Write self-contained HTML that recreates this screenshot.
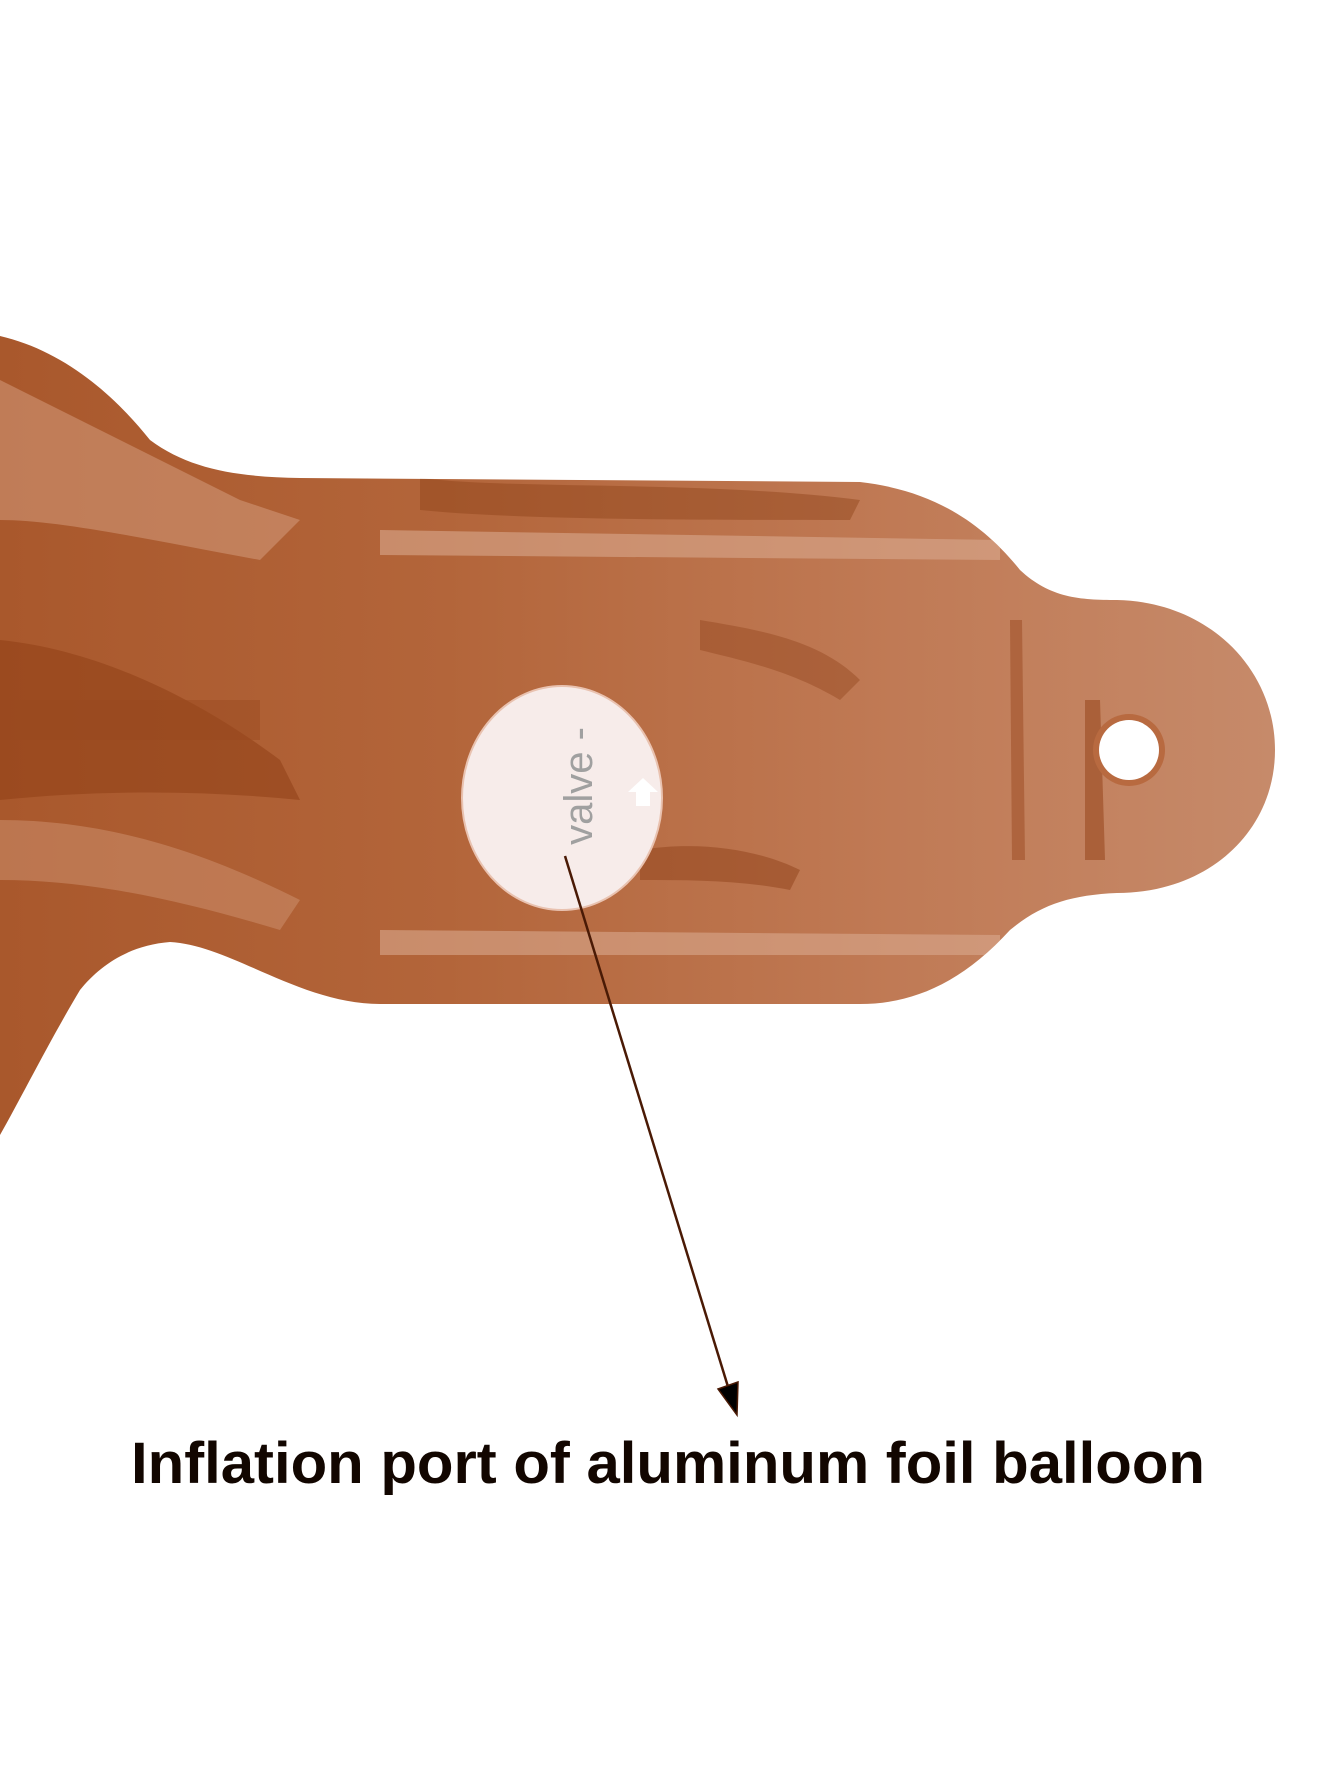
<!DOCTYPE html>
<html><head><meta charset="utf-8"><style>
html,body{margin:0;padding:0;background:#fff;}
svg{display:block;}
</style></head><body>
<svg width="1340" height="1785" viewBox="0 0 1340 1785" xmlns="http://www.w3.org/2000/svg">
<defs>
<linearGradient id="g1" x1="0" y1="0" x2="1" y2="0">
<stop offset="0" stop-color="#a9582c"/><stop offset="0.35" stop-color="#b3653a"/><stop offset="0.7" stop-color="#c07a55"/><stop offset="1" stop-color="#c68a6a"/>
</linearGradient>
<clipPath id="cp"><path id="foil" d="M0,336 C60,350 110,390 150,440 C190,470 240,477 300,478 L860,482 C930,490 980,520 1020,570 C1050,598 1080,600 1117,600 C1210,602 1275,670 1275,750 C1275,830 1210,893 1117,893 C1070,895 1040,905 1010,930 C960,985 910,1004 860,1004 L380,1004 C300,1004 230,945 170,942 C130,945 100,965 80,990 C50,1040 20,1100 0,1135 Z"/></clipPath>
</defs>
<use href="#foil" fill="url(#g1)"/>
<g clip-path="url(#cp)">
<path d="M0,380 C80,420 160,460 240,500 L300,520 L260,560 C150,540 60,520 0,520Z" fill="#d49a7c" opacity="0.55"/>
<path d="M0,640 C100,650 200,700 280,760 L300,800 C200,790 100,790 0,800Z" fill="#8f4016" opacity="0.55"/>
<path d="M0,820 C120,820 220,860 300,900 L280,930 C180,900 90,880 0,880Z" fill="#c98a68" opacity="0.6"/>
<path d="M380,530 L1000,540 L1000,560 L380,555Z" fill="#d8a88e" opacity="0.6"/>
<path d="M380,930 L1000,935 L1000,955 L380,955Z" fill="#d8a88e" opacity="0.6"/>
<path d="M420,478 C520,490 700,480 860,500 L850,520 C700,520 520,520 420,510Z" fill="#8f4219" opacity="0.45"/>
<path d="M640,850 C700,840 760,850 800,870 L790,890 C740,880 690,880 640,880Z" fill="#8f4219" opacity="0.5"/>
<path d="M700,620 C760,630 820,640 860,680 L840,700 C790,670 740,660 700,650Z" fill="#8f4219" opacity="0.4"/>
<path d="M1085,700 L1100,700 L1105,860 L1085,860Z" fill="#9a4a1f" opacity="0.6"/>
<path d="M1010,620 L1022,620 L1025,860 L1012,860Z" fill="#9a4a1f" opacity="0.5"/>
<rect x="0" y="700" width="260" height="40" fill="#9a4a1f" opacity="0.45"/>
</g>
<ellipse cx="562" cy="798" rx="100" ry="112" fill="#f7ecea" stroke="#e9c2b0" stroke-width="2"/>
<text x="0" y="0" transform="translate(592,786) rotate(-90)" text-anchor="middle" font-family="Liberation Sans, sans-serif" font-size="40" fill="#a0a0a0">valve -</text>
<path d="M636,806 L636,792 L628,792 L643,778 L658,792 L650,792 L650,806Z" fill="#fff"/>
<circle cx="1129" cy="750" r="36" fill="#b86a40"/>
<circle cx="1129" cy="750" r="30" fill="#fff"/>
<line x1="565" y1="856" x2="729" y2="1390" stroke="#4a1a05" stroke-width="2.5"/>
<polygon points="718,1389 738,1382 737,1415" fill="#000" stroke="#4a1a05" stroke-width="1.5"/>
<text x="131" y="1483" textLength="1074" lengthAdjust="spacingAndGlyphs" font-family="Liberation Sans, sans-serif" font-weight="bold" font-size="58" fill="#120600">Inflation port of aluminum foil balloon</text>
</svg>
</body></html>
